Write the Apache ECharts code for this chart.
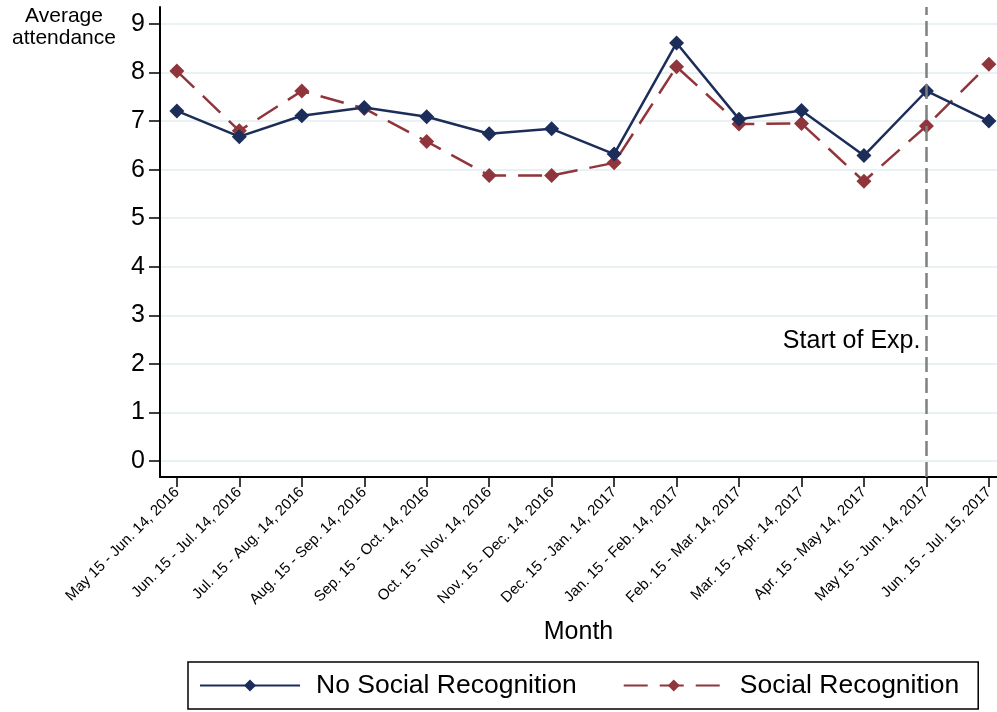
<!DOCTYPE html>
<html>
<head>
<meta charset="utf-8">
<script src="https://cdn.jsdelivr.net/npm/echarts@6/dist/echarts.min.js"></script>
<style>html,body{margin:0;padding:0;background:#fff}#c{width:997px;height:712px}</style>
</head>
<body>
<div id="c"></div>
<script>
const months = [
  'May 15 - Jun. 14, 2016','Jun. 15 - Jul. 14, 2016','Jul. 15 - Aug. 14, 2016',
  'Aug. 15 - Sep. 14, 2016','Sep. 15 - Oct. 14, 2016','Oct. 15 - Nov. 14, 2016',
  'Nov. 15 - Dec. 14, 2016','Dec. 15 - Jan. 14, 2017','Jan. 15 - Feb. 14, 2017',
  'Feb. 15 - Mar. 14, 2017','Mar. 15 - Apr. 14, 2017','Apr. 15 - May 14, 2017',
  'May 15 - Jun. 14, 2017','Jun. 15 - Jul. 15, 2017'
];
const noSocial = [7.21, 6.68, 7.11, 7.28, 7.09, 6.74, 6.84, 6.32, 8.61, 7.04, 7.22, 6.29, 7.62, 7.00];
const social   = [8.03, 6.80, 7.62, 7.26, 6.58, 5.88, 5.88, 6.14, 8.12, 6.94, 6.95, 5.76, 6.90, 8.17];
const yTicks = [0,1,2,3,4,5,6,7,8,9];
const xTicks = months.map((m,i)=>i);
const expStart = 12;
const expLabel = 'Start of Exp.';

const font = "'Liberation Sans', Arial, sans-serif";
const chart = echarts.init(document.getElementById('c'), null, {renderer:'canvas'});
chart.setOption({
  animation:false,
  backgroundColor:'#fff',
  textStyle:{fontFamily:font},
  title:{
    text:'Average\nattendance', left:59, top:0, textAlign:'center',
    textStyle:{fontFamily:font, fontSize:21, fontWeight:'normal', color:'#000', lineHeight:22}
  },
  grid:{left:160, right:0, top:7, bottom:235},
  xAxis:{
    type:'value', min:-0.27, max:13.13,
    name:'Month', nameLocation:'middle', nameGap:143,
    nameTextStyle:{fontFamily:font, fontSize:25, color:'#000'},
    axisLine:{show:true, onZero:false, lineStyle:{color:'#000', width:2}},
    axisTick:{show:true, customValues:xTicks, length:10, lineStyle:{color:'#000', width:1.5}},
    axisLabel:{customValues:xTicks, rotate:45, fontSize:15, color:'#000', fontFamily:font, margin:13,
      formatter:(v)=>months[Math.round(v)]},
    splitLine:{show:false}
  },
  yAxis:{
    type:'value', min:-0.33, max:9.35,
    axisLine:{show:true, onZero:false, lineStyle:{color:'#000', width:2}},
    axisTick:{show:true, customValues:yTicks, length:11, lineStyle:{color:'#000', width:1.5}},
    axisLabel:{customValues:yTicks, fontSize:25, color:'#000', fontFamily:font, margin:15},
    splitLine:{show:true, lineStyle:{color:'#eaf1f3', width:2}}
  },
  legend:{
    left:188, top:662, orient:'horizontal',
    padding:[10,19,10,11], itemGap:46, itemWidth:100, itemHeight:15,
    borderColor:'#000', borderWidth:1.5,
    textStyle:{fontFamily:font, fontSize:26.5, color:'#000', padding:[0,0,0,11]},
    data:['No Social Recognition','Social Recognition']
  },
  series:[
    {
      name:'No Social Recognition', type:'line',
      data:noSocial.map((v,i)=>[xTicks[i], v]),
      color:'#1c2d5a', symbol:'diamond', symbolSize:15,
      lineStyle:{width:2.5, color:'#1c2d5a'},
      itemStyle:{color:'#1c2d5a'},
      z:3,
      markLine:{
        silent:true, symbol:'none', label:{show:false},
        lineStyle:{color:'#808080', type:[15,6], width:2.5},
        data:[{xAxis:expStart}]
      },
      markPoint:{
        symbol:'circle', symbolSize:0,
        label:{show:true, position:'left', distance:6, formatter:expLabel, fontSize:25, color:'#000', fontFamily:font},
        data:[{coord:[expStart, 2.47]}]
      }
    },
    {
      name:'Social Recognition', type:'line',
      data:social.map((v,i)=>[xTicks[i], v]),
      color:'#90353b', symbol:'diamond', symbolSize:15,
      lineStyle:{width:2.5, color:'#90353b', type:[24,12]},
      itemStyle:{color:'#90353b'},
      z:2
    }
  ]
});
</script>
</body>
</html>
